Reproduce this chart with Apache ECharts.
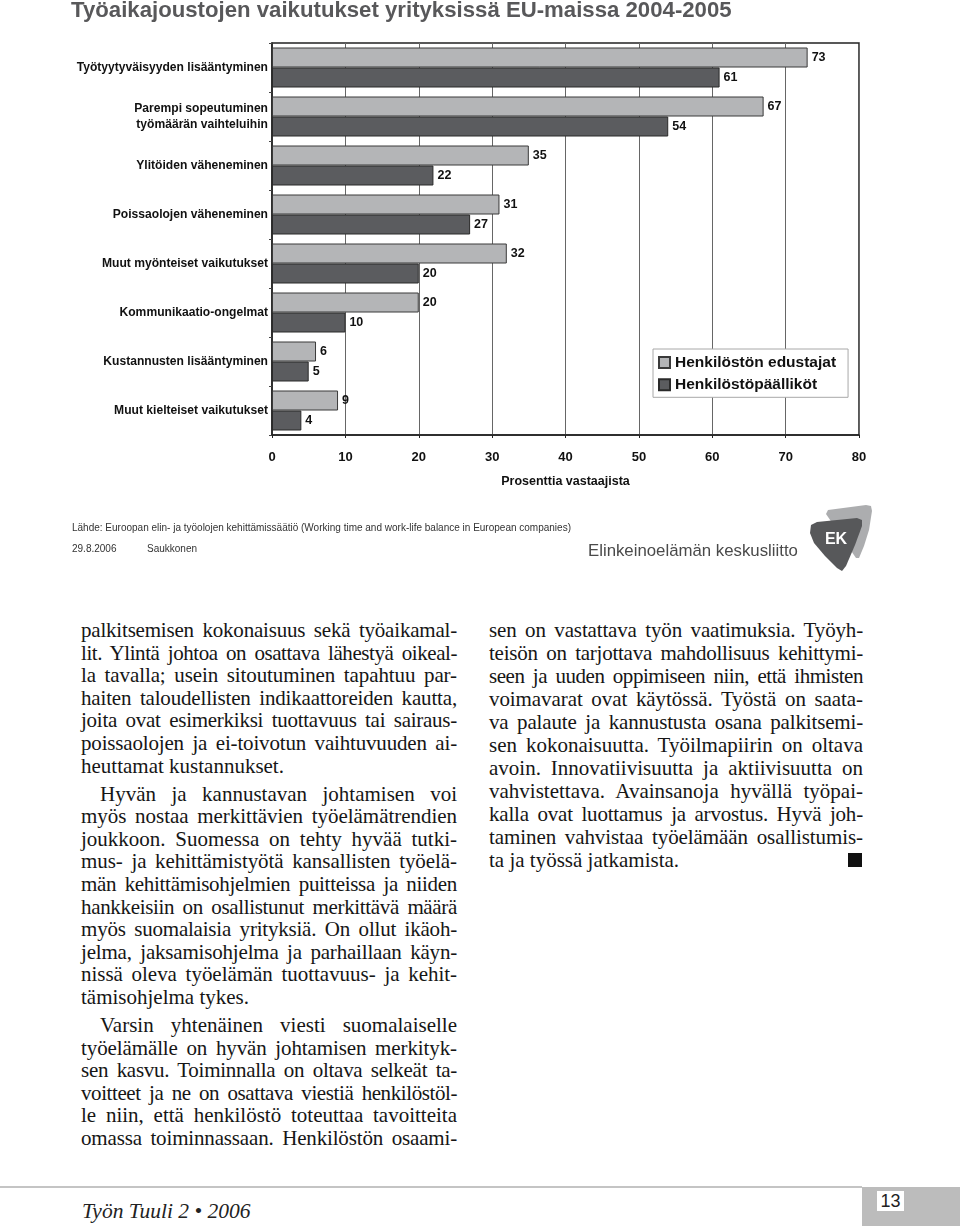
<!DOCTYPE html>
<html>
<head>
<meta charset="utf-8">
<script src="https://cdn.jsdelivr.net/npm/echarts@6/dist/echarts.min.js"></script>
<style>
  html, body { margin: 0; padding: 0; background: #fff; }
  body { width: 960px; height: 1226px; position: relative; overflow: hidden; }
  #chart { position: absolute; left: 0; top: 0; width: 960px; height: 600px; }
  .col { position: absolute; font-family: 'Liberation Serif', 'Times New Roman', serif; font-size: 21px; line-height: 22.6px; color: #161616; }
  .ln { white-space: nowrap; display: block; }
  .ind { text-indent: 19px; margin-top: 5.5px; }
  #colR .ln { line-height: 23px; }
  #footline { position: absolute; left: 0; top: 1186px; width: 862px; height: 2px; background: #c4c4c4; }
  #footbox { position: absolute; left: 862px; top: 1187px; width: 98px; height: 39px; background: #bcbcbc; }
  #pagenum { position: absolute; left: 877px; top: 1191px; width: 27px; height: 20px; background: #fff; font-family: 'Liberation Sans Narrow', 'Liberation Sans', Arial, sans-serif; font-size: 18px; line-height: 20px; text-align: center; color: #222; }
  #journal { position: absolute; left: 82px; top: 1199px; font-family: 'Liberation Serif', 'Times New Roman', serif; font-style: italic; font-size: 21.5px; color: #222; }
  #endmark { position: absolute; left: 848px; top: 853px; width: 14px; height: 14px; background: #111; }
</style>
</head>
<body>
<div id="chart"></div>
<div class="col" id="colL" style="left:81px; top:619px; width:376px;"></div>
<div class="col" id="colR" style="left:489px; top:619px; width:374px;"></div>
<div id="endmark"></div>
<div id="footline"></div>
<div id="footbox"></div>
<div id="pagenum">13</div>
<div id="journal">Työn Tuuli 2 • 2006</div>
<script>
// ---- chart data ----
const chartTitle = 'Työaikajoustojen vaikutukset yrityksissä EU-maissa 2004-2005';
const categories = [
  'Työtyytyväisyyden lisääntyminen',
  'Parempi sopeutuminen\ntyömäärän vaihteluihin',
  'Ylitöiden väheneminen',
  'Poissaolojen väheneminen',
  'Muut myönteiset vaikutukset',
  'Kommunikaatio-ongelmat',
  'Kustannusten lisääntyminen',
  'Muut kielteiset vaikutukset'
];
const seriesNames = ['Henkilöstön edustajat', 'Henkilöstöpäälliköt'];
const edustajat = [73, 67, 35, 31, 32, 20, 6, 9];
const paallikot = [61, 54, 22, 27, 20, 10, 5, 4];
const axisName = 'Prosenttia vastaajista';
const sourceText = 'Lähde: Euroopan elin- ja työolojen kehittämissäätiö (Working time and work-life balance in European companies)';
const dateText = '29.8.2006';
const authorText = 'Saukkonen';
const orgText = 'Elinkeinoelämän keskusliitto';

// ---- article text ----
// '>' marks paragraph start (indented), '|' marks paragraph end (not justified)
const leftLines = [
  'palkitsemisen kokonaisuus sekä työaikamal-',
  'lit. Ylintä johtoa on osattava lähestyä oikeal-',
  'la tavalla; usein sitoutuminen tapahtuu par-',
  'haiten taloudellisten indikaattoreiden kautta,',
  'joita ovat esimerkiksi tuottavuus tai sairaus-',
  'poissaolojen ja ei-toivotun vaihtuvuuden ai-',
  'heuttamat kustannukset.|',
  '>Hyvän ja kannustavan johtamisen voi',
  'myös nostaa merkittävien työelämätrendien',
  'joukkoon. Suomessa on tehty hyvää tutki-',
  'mus- ja kehittämistyötä kansallisten työelä-',
  'män kehittämisohjelmien puitteissa ja niiden',
  'hankkeisiin on osallistunut merkittävä määrä',
  'myös suomalaisia yrityksiä. On ollut ikäoh-',
  'jelma, jaksamisohjelma ja parhaillaan käyn-',
  'nissä oleva työelämän tuottavuus- ja kehit-',
  'tämisohjelma tykes.|',
  '>Varsin yhtenäinen viesti suomalaiselle',
  'työelämälle on hyvän johtamisen merkityk-',
  'sen kasvu. Toiminnalla on oltava selkeät ta-',
  'voitteet ja ne on osattava viestiä henkilöstöl-',
  'le niin, että henkilöstö toteuttaa tavoitteita',
  'omassa toiminnassaan. Henkilöstön osaami-'
];
const rightLines = [
  'sen on vastattava työn vaatimuksia. Työyh-',
  'teisön on tarjottava mahdollisuus kehittymi-',
  'seen ja uuden oppimiseen niin, että ihmisten',
  'voimavarat ovat käytössä. Työstä on saata-',
  'va palaute ja kannustusta osana palkitsemi-',
  'sen kokonaisuutta. Työilmapiirin on oltava',
  'avoin. Innovatiivisuutta ja aktiivisuutta on',
  'vahvistettava. Avainsanoja hyvällä työpai-',
  'kalla ovat luottamus ja arvostus. Hyvä joh-',
  'taminen vahvistaa työelämään osallistumis-',
  'ta ja työssä jatkamista.|'
];

function fillColumn(id, lines) {
  const col = document.getElementById(id);
  const W = parseFloat(col.style.width);
  lines.forEach((raw) => {
    let txt = raw, indent = false, last = false;
    if (txt.startsWith('>')) { indent = true; txt = txt.slice(1); }
    if (txt.endsWith('|')) { last = true; txt = txt.slice(0, -1); }
    const d = document.createElement('div');
    d.className = 'ln' + (indent ? ' ind' : '');
    const s = document.createElement('span');
    s.textContent = txt;
    d.appendChild(s);
    col.appendChild(d);
    if (!last) {
      const target = W - (indent ? 19 : 0);
      let nat = s.getBoundingClientRect().width;
      const spaces = (txt.match(/ /g) || []).length;
      // if the natural line is too wide, tighten letters a little first
      if (nat > target - spaces * 3.5) {
        const ls = (target - spaces * 3.5 - nat) / txt.length;
        s.style.letterSpacing = ls + 'px';
        nat = s.getBoundingClientRect().width;
      }
      if (spaces > 0) s.style.wordSpacing = ((target - nat) / spaces) + 'px';
    }
  });
}
fillColumn('colL', leftLines);
fillColumn('colR', rightLines);

// ---- chart ----
const SANS = "'Liberation Sans', Arial, Helvetica, sans-serif";
const NARROW = "'Liberation Sans Narrow', 'Liberation Sans', Arial, sans-serif";
const chart = echarts.init(document.getElementById('chart'), null, { renderer: 'canvas' });

const lightColor = '#b4b5b7';
const darkColor = '#5b5c5f';
const labelStyle = { show: true, position: 'right', distance: 4, color: '#111', fontFamily: SANS, fontWeight: 'bold', fontSize: 12.5 };

chart.setOption({
  animation: false,
  backgroundColor: '#fff',
  title: {
    text: chartTitle, left: 71, top: 0, padding: 0,
    textStyle: { fontFamily: SANS, fontWeight: 'bold', fontSize: 22.2, color: '#58585a' }
  },
  legend: {
    orient: 'vertical', left: 653, top: 349,
    padding: [5, 12, 4, 5], itemGap: 5.3, itemWidth: 11, itemHeight: 11,
    backgroundColor: '#fff', borderColor: '#a8a8a8', borderWidth: 1, borderRadius: 0,
    icon: 'rect',
    textStyle: { fontFamily: SANS, fontWeight: 'bold', fontSize: 15.5, color: '#111', lineHeight: 17 },
    data: seriesNames
  },
  grid: {
    left: 272, top: 43, width: 587, height: 392, show: true,
    borderColor: '#222', borderWidth: 1.5, backgroundColor: '#fff', containLabel: false
  },
  xAxis: {
    type: 'value', min: 0, max: 80, interval: 10, position: 'bottom',
    name: axisName, nameLocation: 'middle', nameGap: 40,
    nameTextStyle: { fontFamily: SANS, fontWeight: 'bold', fontSize: 12.5, color: '#111' },
    axisLine: { show: true, lineStyle: { color: '#222', width: 1.5 } },
    axisTick: { show: true, length: 3, lineStyle: { color: '#222' } },
    splitLine: { show: true, lineStyle: { color: '#666', width: 1 } },
    axisLabel: { fontFamily: SANS, fontWeight: 'bold', fontSize: 13, color: '#111', margin: 16 }
  },
  yAxis: {
    type: 'category', inverse: true, data: categories,
    axisLine: { show: true, lineStyle: { color: '#222', width: 1.5 } },
    axisTick: { show: true, length: 3, alignWithLabel: false, lineStyle: { color: '#444' } },
    axisLabel: { fontFamily: SANS, fontWeight: 'bold', fontSize: 12.1, color: '#111', margin: 4, lineHeight: 16.5, align: 'right' },
    splitLine: { show: false }
  },
  series: [
    {
      name: seriesNames[0], type: 'bar', data: edustajat, barWidth: 20, barGap: '0%',
      itemStyle: { color: lightColor, borderColor: '#3a3a3a', borderWidth: 1 },
      label: labelStyle
    },
    {
      name: seriesNames[1], type: 'bar', data: paallikot, barWidth: 20, barGap: '0%',
      itemStyle: { color: darkColor, borderColor: '#2a2a2a', borderWidth: 1 },
      label: labelStyle
    }
  ],
  graphic: [
    { type: 'text', x: 72, y: 523, style: { text: sourceText, font: '10px ' + NARROW, fill: '#333' } },
    { type: 'text', x: 72, y: 544, style: { text: dateText, font: '10px ' + NARROW, fill: '#333' } },
    { type: 'text', x: 147, y: 544, style: { text: authorText, font: '10px ' + NARROW, fill: '#333' } },
    { type: 'text', x: 588, y: 543, style: { text: orgText, font: '16.8px ' + NARROW, fill: '#4a4a4a' } },
    { type: 'polygon', shape: { points: [[828,510],[866,505],[871,506],[872,511],[869,530],[864,546],[859,558],[856,558],[826,514]] }, style: { fill: '#acadaf' } },
    { type: 'polygon', shape: { points: [[817,522],[857,518],[862,520],[862,526],[855,545],[846,566],[842,571],[837,568],[825,556],[814,543],[810,533],[811,525]] }, style: { fill: '#57585a' } },
    { type: 'text', x: 836, y: 540, style: { text: 'EK', font: 'bold 16px ' + SANS, fill: '#fff', align: 'center', verticalAlign: 'middle' } }
  ]
});
</script>
</body>
</html>
